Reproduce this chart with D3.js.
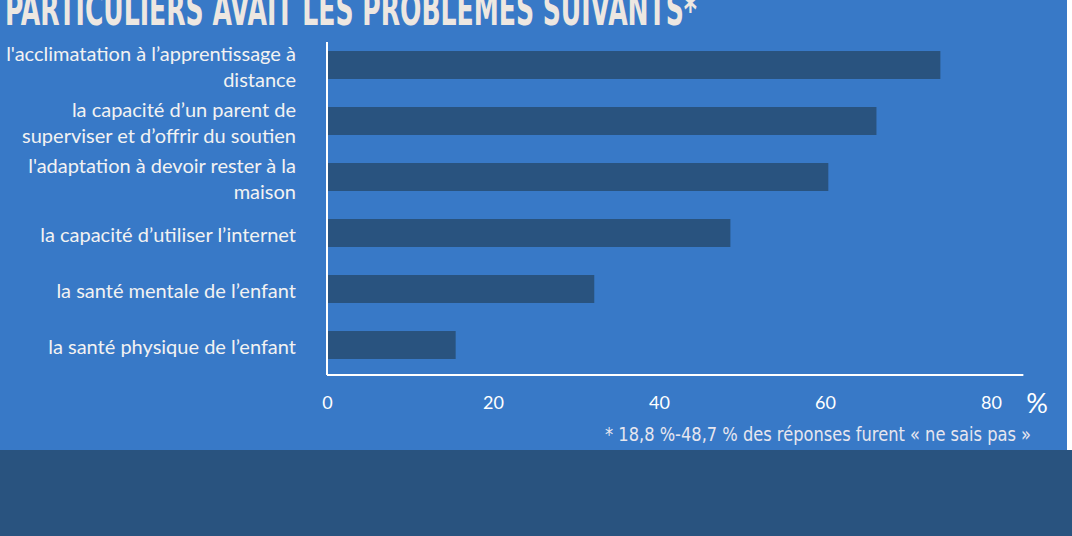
<!DOCTYPE html>
<html>
<head>
<meta charset="utf-8">
<script src="https://cdn.jsdelivr.net/npm/d3@7"></script>
<style>
  body { margin: 0; background: #ffffff; }
  svg { display: block; }
</style>
</head>
<body>
<div id="chart"></div>
<script>
// data
var categories = [
  ["l'acclimatation à l’apprentissage à", "distance"],
  ["la capacité d’un parent de", "superviser et d’offrir du soutien"],
  ["l'adaptation à devoir rester à la", "maison"],
  ["la capacité d’utiliser l’internet"],
  ["la santé mentale de l’enfant"],
  ["la santé physique de l’enfant"]
];
var values = [73.9, 66.2, 60.4, 48.6, 32.2, 15.5];
var tickValues = [0, 20, 40, 60, 80];
var title = "PARTICULIERS AVAIT LES PROBLEMES SUIVANTS*";
var footnote = "* 18,8 %-48,7 % des réponses furent « ne sais pas »";

var W = 1072, H = 536;
var margin = {top: 37, left: 327};

var svg = d3.select("#chart")
  .append("svg")
    .attr("width", W)
    .attr("height", H);

// panels
svg.append("rect")
  .attr("x", 0).attr("y", 0)
  .attr("width", 1067).attr("height", 450)
  .attr("fill", "#3879c7");
svg.append("rect")
  .attr("x", 0).attr("y", 450)
  .attr("width", W).attr("height", H - 450)
  .attr("fill", "#29537f");

// title (cut at top like the original)
svg.append("text")
  .attr("x", 5).attr("y", 25)
  .attr("font-family", "'Liberation Sans Narrow', 'DejaVu Sans Condensed', sans-serif")
  .attr("font-weight", "bold")
  .attr("font-size", 44)
  .attr("textLength", 692)
  .attr("lengthAdjust", "spacingAndGlyphs")
  .attr("fill", "#ede7e1")
  .text(title);

var g = svg.append("g")
  .attr("transform", "translate(" + margin.left + "," + margin.top + ")");

var x = d3.scaleLinear()
  .domain([0, 80])
  .range([0, 664]);

var y = d3.scaleBand()
  .domain(d3.range(categories.length))
  .range([0, 336])
  .paddingInner(0.5)
  .paddingOuter(0.25);

// bars
g.selectAll("rect.bar")
  .data(values)
  .enter()
  .append("rect")
    .attr("class", "bar")
    .attr("x", x(0))
    .attr("y", function (d, i) { return y(i); })
    .attr("width", function (d) { return x(d) - x(0); })
    .attr("height", y.bandwidth())
    .attr("fill", "#29537f");

// axis lines
g.append("line")
  .attr("x1", x(0)).attr("x2", x(0))
  .attr("y1", 5).attr("y2", 338)
  .attr("stroke", "#ffffff").attr("stroke-width", 2);
g.append("line")
  .attr("x1", x(0)).attr("x2", x(83.9))
  .attr("y1", 338).attr("y2", 338)
  .attr("stroke", "#ffffff").attr("stroke-width", 2);

// x tick labels
var xAxis = g.append("g")
  .attr("transform", "translate(0,366)")
  .call(d3.axisBottom(x).tickValues(tickValues).tickSize(0).tickPadding(0));
xAxis.select(".domain").remove();
xAxis.selectAll("text")
  .attr("font-family", "Lato, sans-serif")
  .attr("font-size", 18)
  .attr("fill", "#ffffff")
  .attr("dy", "0.35em");

g.append("text")
  .attr("x", x(80) + 46).attr("y", 367)
  .attr("dy", "0.35em")
  .attr("text-anchor", "middle")
  .attr("font-family", "Lato, sans-serif")
  .attr("font-size", 27)
  .attr("fill", "#ffffff")
  .text("%");

// category labels
var labels = g.selectAll("text.cat")
  .data(categories)
  .enter()
  .append("text")
    .attr("class", "cat")
    .attr("text-anchor", "end")
    .attr("font-family", "Lato, sans-serif")
    .attr("font-size", 20)
    .attr("fill", "#f2f2f2")
    .attr("transform", function (d, i) {
      return "translate(-31," + (y(i) + y.bandwidth() / 2 + 2) + ")";
    });
labels.selectAll("tspan")
  .data(function (d) { return d; })
  .enter()
  .append("tspan")
    .attr("x", 0)
    .attr("y", function (d, j, nodes) { return (j - (nodes.length - 1) / 2) * 26; })
    .attr("dy", "0.35em")
    .text(function (d) { return d; });

// footnote
svg.append("text")
  .attr("x", 605).attr("y", 441)
  .attr("font-family", "'Liberation Sans Narrow', 'DejaVu Sans Condensed', sans-serif")
  .attr("font-size", 20)
  .attr("textLength", 426)
  .attr("lengthAdjust", "spacingAndGlyphs")
  .attr("fill", "#e6e6ef")
  .text(footnote);
</script>
</body>
</html>
